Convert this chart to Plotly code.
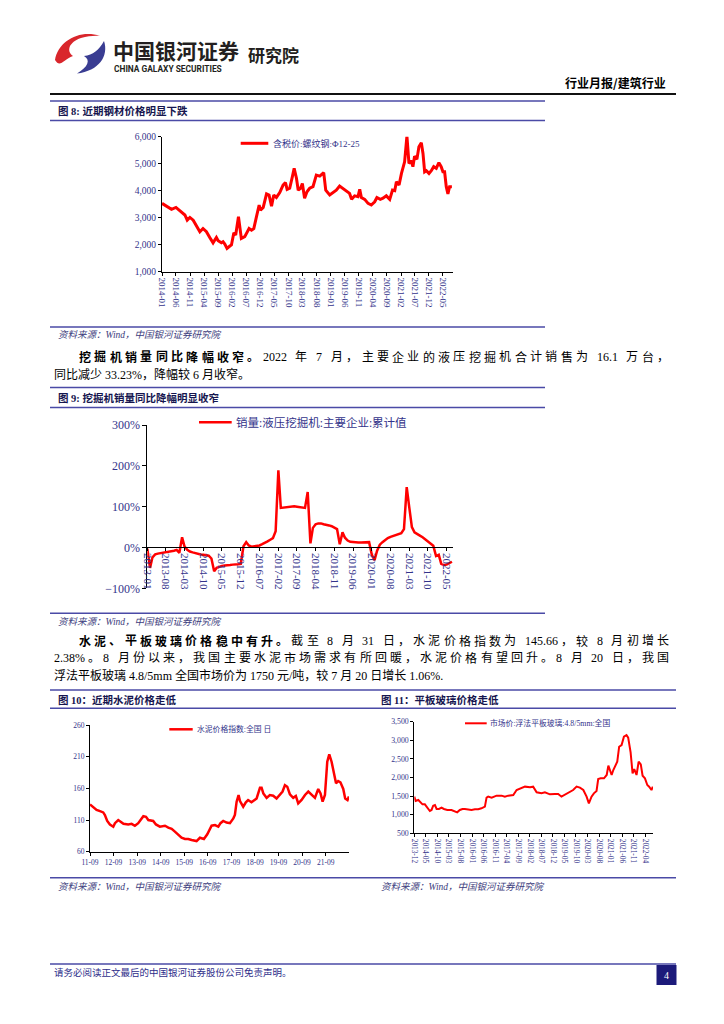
import plotly.graph_objects as go
import pandas as pd

W, H = 724, 1024
def X(px): return px / W
def Y(py): return 1 - py / H

# ---------------- data ----------------
steel_dates = [
 "2014-01-01","2014-02-20","2014-04-14","2014-06-01","2014-07-13","2014-08-18","2014-09-06","2014-10-01","2014-10-30","2014-12-05",
 "2015-01-10","2015-02-15","2015-03-21","2015-04-27","2015-06-02","2015-07-08","2015-08-13","2015-09-01","2015-10-06","2015-10-24",
 "2015-11-12","2015-12-06","2016-01-06","2016-01-23","2016-02-18","2016-03-09","2016-04-08","2016-04-22","2016-05-09","2016-06-15",
 "2016-07-03","2016-08-01","2016-08-27","2016-09-21","2016-10-20","2016-11-18","2016-12-02","2017-01-01","2017-02-06","2017-03-05",
 "2017-04-01","2017-04-25","2017-05-24","2017-06-29","2017-08-04","2017-08-30","2017-09-17","2017-10-15","2017-11-14","2017-12-02",
 "2017-12-27","2018-01-15","2018-02-09","2018-03-01","2018-03-25","2018-04-20","2018-05-19","2018-06-24","2018-07-30","2018-09-05",
 "2018-10-18","2018-11-09","2018-12-22","2019-01-28","2019-03-03","2019-04-08","2019-05-14","2019-06-19","2019-07-25","2019-08-16",
 "2019-09-18","2019-10-24","2019-11-12","2019-11-30","2020-01-05","2020-02-10","2020-03-16","2020-04-22","2020-05-16","2020-06-22",
 "2020-07-21","2020-08-26","2020-10-02","2020-11-01","2020-11-25","2020-12-13","2021-01-11","2021-02-06","2021-03-12","2021-04-06",
 "2021-04-28","2021-05-23","2021-06-10","2021-06-28","2021-07-23","2021-08-14","2021-09-09","2021-09-27","2021-10-15","2021-11-02",
 "2021-12-01","2021-12-26","2022-01-21","2022-02-18","2022-03-18","2022-04-12","2022-05-01","2022-05-19","2022-06-06","2022-06-24",
 "2022-07-12","2022-08-06"]
steel_vals = [
 3530,3430,3310,3380,3260,3190,3100,2910,3010,2910,
 2670,2480,2600,2480,2270,2070,2270,2150,2070,2110,
 2020,1860,1950,1990,2440,2360,3040,2730,2230,2300,
 2420,2600,2540,2600,3040,3470,3280,3380,3880,3840,
 3430,3840,3750,3930,4210,4300,4050,4090,4540,4830,
 4460,4020,4090,4270,3720,3960,4090,4150,4580,4540,
 4670,4020,3840,3930,4020,4170,4090,4000,3900,3680,
 3810,3780,4050,3750,3680,3530,3470,3590,3750,3680,
 3720,3810,3680,4020,4000,4330,4210,4640,5070,6020,
 5010,5110,4890,5280,5160,5630,5780,5380,4700,4740,
 4640,4740,4890,4830,5040,4890,4700,4700,4150,3880,
 4150,4150]

# excavator sales YoY (cumulative), monthly from 2013-01
exc_start = "2013-01-01"
exc_vals = [
 -3,-50,-24,-17,-15,-14,-12,-11,-10,-9,-8,-6,
 -13,25,2,-6,-10,-12,-14,-16,-17,-18,-19,-20,
 -27,-58,-50,-47,-45,-44,-44,-43,-42,-42,-41,-40,
 3,13,5,2,3,4,5,8,11,15,19,23,
 40,189,97,98,99,100,101,101,100,99,98,97,
 136,10,48,57,59,59,57,56,54,52,49,45,
 8,37,24,17,14,13,12,12,12,12,13,13,
 -18,-31,-8,7,13,19,23,26,28,31,33,35,
 45,148,100,50,37,32,29,25,20,14,9,4,
 -21,-18,-40,-43,-42,-38,-35]
exc_dates = pd.date_range(exc_start, periods=len(exc_vals), freq="MS")

cement_dates = [
 "2011-09-01","2011-10-22","2011-12-12","2012-02-03","2012-03-24","2012-04-19","2012-05-25","2012-07-06","2012-08-27","2012-09-22",
 "2012-11-12","2012-12-19","2013-02-01","2013-04-16","2013-06-07","2013-07-28","2013-09-18","2013-10-24","2013-12-06","2014-01-16",
 "2014-02-21","2014-05-08","2014-06-19","2014-08-19","2014-11-06","2014-12-28","2015-02-18","2015-04-09","2015-06-01","2015-07-21",
 "2015-09-12","2015-11-03","2015-12-24","2016-03-10","2016-05-01","2016-07-02","2016-08-23","2016-09-24","2016-10-29","2016-12-20",
 "2017-02-10","2017-03-16","2017-04-27","2017-06-18","2017-08-09","2017-10-01","2017-10-25","2017-11-21","2017-12-21","2018-01-12",
 "2018-03-03","2018-04-13","2018-05-18","2018-07-09","2018-09-27","2018-11-18","2018-12-13","2019-01-09","2019-03-01","2019-04-20",
 "2019-06-11","2019-08-02","2019-09-23","2019-11-03","2019-12-10","2020-01-15","2020-02-25","2020-04-16","2020-05-27","2020-07-03",
 "2020-08-24","2020-10-16","2020-12-06","2021-01-27","2021-03-19","2021-05-09","2021-06-14","2021-07-16","2021-08-21","2021-09-26",
 "2021-10-27","2021-12-02","2022-01-06","2022-02-09","2022-03-14","2022-04-18","2022-06-01","2022-07-01","2022-08-06","2022-08-28"]
cement_vals = [
 134.7,131,126,124,122,118,108.5,103,99.5,105,
 110,107.4,104,103,104,101,105,110,116,115,
 110,108.5,103,99.5,101,98,96,91.6,87.4,82,
 80,80,78.4,76.8,82,80,87.4,94,101,102,
 99.5,105,108.5,106,105,112.6,118,139,149.5,140,
 131,138,141.6,138,144,161,161,152,145,149.5,
 148.4,144,149.5,155,165,162.6,150.5,145,148,136.3,
 141.6,149.5,155,150.5,145,159,152,139,149.5,202,
 213.7,202,186.3,168,171.6,169.5,159,144,141.6,147]

glass_dates = [
 "2013-12-01","2013-12-18","2014-01-23","2014-02-22","2014-03-19","2014-04-19","2014-05-20","2014-06-24","2014-07-16","2014-08-07",
 "2014-08-30","2014-09-21","2014-10-22","2014-11-25","2014-12-26","2015-02-09","2015-04-05","2015-05-19","2015-06-19","2015-07-24",
 "2015-08-28","2015-09-28","2015-11-12","2015-12-25","2016-02-08","2016-03-22","2016-05-04","2016-06-18","2016-07-10","2016-08-01",
 "2016-09-15","2016-10-28","2016-11-19","2017-01-24","2017-03-08","2017-04-21","2017-06-27","2017-08-10","2017-10-15","2017-11-28",
 "2018-02-03","2018-03-16","2018-05-01","2018-07-04","2018-08-18","2018-10-22","2018-12-27","2019-02-09","2019-03-24","2019-05-07",
 "2019-07-12","2019-08-25","2019-10-09","2019-11-22","2020-01-06","2020-02-18","2020-03-19","2020-04-23","2020-05-24","2020-06-28",
 "2020-07-20","2020-08-21","2020-10-04","2020-11-09","2020-12-01","2020-12-22","2021-01-13","2021-02-04","2021-03-10","2021-03-28",
 "2021-04-22","2021-05-24","2021-06-24","2021-07-28","2021-08-19","2021-09-20","2021-10-16","2021-11-07","2021-12-07","2022-01-04",
 "2022-02-01","2022-02-25","2022-03-28","2022-04-28","2022-05-22","2022-06-22","2022-07-10"]
glass_vals = [
 1485,1369,1396,1333,1279,1279,1190,1100,1127,1243,
 1261,1154,1154,1190,1154,1127,1127,1100,1064,1127,
 1154,1154,1145,1127,1145,1145,1172,1216,1458,1485,
 1458,1485,1512,1512,1485,1512,1530,1664,1727,1754,
 1736,1754,1602,1575,1602,1548,1557,1557,1485,1530,
 1602,1664,1754,1727,1664,1485,1306,1485,1575,1637,
 1960,1978,1978,2067,2318,2201,2067,2201,2336,2425,
 2828,2873,3097,3142,3070,2676,2112,2228,2067,2425,
 2354,2049,1978,1798,1754,1664,1754]

# ---------------- texts ----------------
header_right = "行业月报/建筑行业"
title8 = "图 8: 近期钢材价格明显下跌"
title9 = "图 9: 挖掘机销量同比降幅明显收窄"
title10 = "图 10：近期水泥价格走低"
title11 = "图 11：平板玻璃价格走低"
source_txt = "资料来源：Wind，中国银河证券研究院"
legend8 = "含税价:螺纹钢:Φ12-25"
legend9 = "销量:液压挖掘机:主要企业:累计值"
legend10 = "水泥价格指数:全国 日"
legend11 = "市场价:浮法平板玻璃:4.8/5mm:全国"
p1_bold = "挖掘机销量同比降幅收窄。"
p1_l1 = "2022 年 7 月，主要企业的液压挖掘机合计销售为 16.1 万台，"
p1_l2 = "同比减少 33.23%，降幅较 6 月收窄。"
p2_bold = "水泥、平板玻璃价格稳中有升。"
p2_l1 = "截至 8 月 31 日，水泥价格指数为 145.66，较 8 月初增长"
p2_l2 = "2.38%。8 月份以来，我国主要水泥市场需求有所回暖，水泥价格有望回升。8 月 20 日，我国"
p2_l3 = "浮法平板玻璃 4.8/5mm 全国市场价为 1750 元/吨，较 7 月 20 日增长 1.06%."
footer_txt = "请务必阅读正文最后的中国银河证券股份公司免责声明。"

# ---------------- styling ----------------
RED = "#ff0000"
NAVY = "#33338a"
BAR = "#4a4aa6"
TXT_FONT = "Liberation Serif, Noto Sans CJK SC"
CJK = "Noto Sans CJK SC"

fig = go.Figure()
fig.add_trace(go.Scatter(x=steel_dates, y=steel_vals, mode="lines", line=dict(color=RED, width=3),
                         xaxis="x", yaxis="y", showlegend=False, hoverinfo="skip"))
fig.add_trace(go.Scatter(x=exc_dates, y=exc_vals, mode="lines", line=dict(color=RED, width=2.5),
                         xaxis="x2", yaxis="y2", showlegend=False, hoverinfo="skip"))
fig.add_trace(go.Scatter(x=cement_dates, y=cement_vals, mode="lines", line=dict(color=RED, width=2.5),
                         xaxis="x3", yaxis="y3", showlegend=False, hoverinfo="skip"))
fig.add_trace(go.Scatter(x=glass_dates, y=glass_vals, mode="lines", line=dict(color=RED, width=2),
                         xaxis="x4", yaxis="y4", showlegend=False, hoverinfo="skip"))

def ax(fs, **kw):
    d = dict(showline=True, linecolor="#000000", linewidth=1, showgrid=False, zeroline=False,
             ticks="outside", ticklen=3, tickwidth=1, tickcolor="#000000",
             tickfont=dict(family="Liberation Serif", size=fs, color=NAVY),
             automargin=False, fixedrange=True)
    d.update(kw)
    return d

layout = dict(
    width=W, height=H, margin=dict(l=0, r=0, t=0, b=0), autosize=False,
    paper_bgcolor="white", plot_bgcolor="rgba(0,0,0,0)", showlegend=False,
    xaxis=ax(9, domain=[X(162), X(453)], anchor="y", type="date",
             range=["2014-01-01", "2022-08-18"], tick0="2014-01-01", dtick="M5",
             tickformat="%Y-%m", tickangle=90),
    yaxis=ax(9.5, domain=[Y(271.7), Y(136.7)], anchor="x", range=[1000, 6000],
             dtick=1000, tickformat=",d"),
    xaxis2=ax(11, domain=[X(147.3), X(453)], anchor="free", position=Y(546.7), type="date",
              range=["2013-01-01", "2022-07-13"], tick0="2013-01-01", dtick="M7",
              tickformat="%Y-%m", tickangle=90),
    yaxis2=ax(12, domain=[Y(588.3), Y(425)], anchor="x2", range=[-100, 300], dtick=100,
              ticksuffix="%", ticklen=4),
    xaxis3=ax(7.5, domain=[X(90), X(349)], anchor="y3", type="date",
              range=["2011-09-01", "2022-08-29"], tick0="2011-09-01", dtick="M12",
              tickformat="%y-%m", tickangle=0),
    yaxis3=ax(7.5, domain=[Y(851.7), Y(725)], anchor="x3", range=[60, 260], tick0=60, dtick=50),
    xaxis4=ax(7.3, domain=[X(414.3), X(653)], anchor="y4", type="date",
              range=["2013-12-01", "2022-07-12"], tick0="2013-12-01", dtick="M5",
              tickformat="%Y-%m", tickangle=90),
    yaxis4=ax(7.8, domain=[Y(833.3), Y(721.7)], anchor="x4", range=[500, 3500], dtick=500,
              tickformat=",d"),
)

shapes = []
anns = []

def hline(x0, x1, py, color, width):
    shapes.append(dict(type="line", xref="paper", yref="paper", x0=X(x0), x1=X(x1),
                       y0=Y(py), y1=Y(py), line=dict(color=color, width=width)))

def text(px, py, s, size, color="#000000", family=TXT_FONT, xanchor="left"):
    anns.append(dict(x=X(px), y=Y(py), xref="paper", yref="paper", text=s, showarrow=False,
                     xanchor=xanchor, yanchor="middle", borderpad=0,
                     font=dict(family=family, size=size, color=color)))

def path(points, color):
    pts = []
    for p in points:
        if isinstance(p, str):
            pts.append(p)
        else:
            pts.append(f"{X(p[0]):.5f},{Y(p[1]):.5f}")
    shapes.append(dict(type="path", xref="paper", yref="paper", path=" ".join(pts),
                       fillcolor=color, line=dict(width=0)))

# ---- header ----
path(["M", (100, 36), "C", (80, 29), (58, 41), (55, 60), (53, 70), (58, 77), (65, 76),
      "C", (60, 68), (63, 60), (73, 56), "C", (66, 51), (69, 42), (81, 38),
      "C", (88, 36), (95, 35.5), (100, 36), "Z"], "#d9262c")
path(["M", (104, 41), "C", (109, 56), (99, 71), (77, 73.5), "C", (88, 67), (91, 60), (84, 56),
      "C", (93, 55), (99, 50), (104, 41), "Z"], "#3a3d92")
text(112, 50, "<b>中国银河证券</b>", 21, "#231f20", CJK)
text(113, 68.5, "<b>CHINA GALAXY SECURITIES</b>", 8.4, "#231f20", "Roboto")
text(247, 54.5, "<b>研究院</b>", 17, "#231f20", CJK)
text(667, 82, f"<b>{header_right}</b>", 12, "#000000", CJK, xanchor="right")
hline(50, 676, 94, "#111111", 2)

# ---- figure title bars & sources ----
TITLE_C = "#16164f"
SRC_C = "#3c3c7c"
hline(50, 545, 101, BAR, 1.5)
hline(50, 545, 120.5, BAR, 1.5)
text(57, 111, f"<b>{title8}</b>", 10.5, TITLE_C)
hline(50, 545, 327, BAR, 1.5)
text(57, 334.5, f"<i>{source_txt}</i>", 9.5, SRC_C)

hline(50, 545, 387.5, BAR, 1.5)
hline(50, 545, 407.5, BAR, 1.5)
text(57, 397.5, f"<b>{title9}</b>", 10.5, TITLE_C)
hline(50, 545, 613.3, BAR, 1.5)
text(57, 621.5, f"<i>{source_txt}</i>", 9.5, SRC_C)

hline(50, 676, 690, BAR, 1.5)
hline(50, 676, 708.3, BAR, 1.5)
text(57, 699.5, f"<b>{title10}</b>", 10.5, TITLE_C)
text(380, 699.5, f"<b>{title11}</b>", 10.5, TITLE_C)
hline(50, 676, 877.7, BAR, 1.5)
text(57, 886.5, f"<i>{source_txt}</i>", 9.5, SRC_C)
text(380, 886.5, f"<i>{source_txt}</i>", 9.5, SRC_C)

# ---- legends ----
hline(240.7, 268.3, 143.3, RED, 3)
text(271.5, 143.3, legend8, 9, NAVY)
hline(199, 231.7, 422.3, RED, 2.5)
text(235, 422.3, legend9, 11.5, NAVY)
hline(169.3, 192.7, 729.3, RED, 2.5)
text(196, 729.3, legend10, 7.8, NAVY)
hline(465, 486.7, 723.3, RED, 2)
text(489.3, 723.3, legend11, 7.8, NAVY)

# ---- body paragraphs ----
def is_cjk(ch):
    return ord(ch) >= 0x2E80

ASCII_W = {".": 0.25, "%": 0.833, "/": 0.278, "m": 0.778, ",": 0.25}
SPACE_W = 0.45

def tokens(s):
    """returns list of (token, spaces_before)"""
    out, cur, sp = [], "", 0
    for ch in s:
        if ch == " ":
            if cur:
                out.append((cur, sp)); cur = ""; sp = 0
            sp += 1
        elif is_cjk(ch):
            if cur:
                out.append((cur, sp)); cur = ""; sp = 0
            out.append((ch, sp)); sp = 0
        else:
            cur += ch
    if cur:
        out.append((cur, sp))
    return out

def tok_w(t, fs):
    if is_cjk(t[0]):
        return fs
    return sum(ASCII_W.get(c, 0.5) for c in t) * fs

def justify(bold, normal, x0, x1, py, fs=12):
    toks = [(t, s, True) for t, s in tokens(bold)] + [(t, s, False) for t, s in tokens(normal)]
    widths = [tok_w(t, fs) + s * SPACE_W * fs for t, s, _ in toks]
    gap = (x1 - x0 - sum(widths)) / (len(toks) - 1)
    x = x0
    for (t, s, b), w in zip(toks, widths):
        x_t = x + s * SPACE_W * fs
        text(x_t, py, f"<b>{t}</b>" if b else t, fs, "#000000")
        x += w + gap

justify(p1_bold, p1_l1, 78, 668, 357)
text(53, 374, p1_l2, 12)
justify(p2_bold, p2_l1, 78, 668, 641)
justify("", p2_l2, 53, 668, 658)
text(53, 675, p2_l3, 12)

# ---- footer ----
hline(50, 676, 964, BAR, 1.5)
shapes.append(dict(type="rect", xref="paper", yref="paper", x0=X(656.5), x1=X(676.5),
                   y0=Y(985), y1=Y(965), fillcolor="#1c1a7a", line=dict(width=0)))
text(666.5, 975, "4", 10, "white", "Liberation Serif", xanchor="center")
text(53, 972.5, footer_txt, 9.5, "#2e2e8a")

layout["shapes"] = shapes
layout["annotations"] = anns
fig.update_layout(**layout)

fig.write_html("out.html", config={"displayModeBar": False},
               post_script="document.body.style.margin='0';document.body.style.overflow='hidden';")
